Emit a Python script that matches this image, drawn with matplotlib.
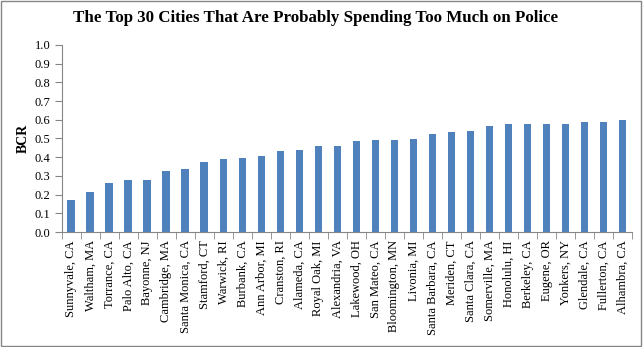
import numpy as np
import matplotlib
matplotlib.use("Agg")
import matplotlib.pyplot as plt
from matplotlib.patches import Rectangle
from matplotlib.ticker import FixedLocator, FormatStrFormatter

# BCR by city, sorted ascending
cities = ["Sunnyvale, CA", "Waltham, MA", "Torrance, CA", "Palo Alto, CA", "Bayonne, NJ",
          "Cambridge, MA", "Santa Monica, CA", "Stamford, CT", "Warwick, RI", "Burbank, CA",
          "Ann Arbor, MI", "Cranston, RI", "Alameda, CA", "Royal Oak, MI", "Alexandria, VA",
          "Lakewood, OH", "San Mateo, CA", "Bloomington, MN", "Livonia, MI", "Santa Barbara, CA",
          "Meriden, CT", "Santa Clara, CA", "Somerville, MA", "Honolulu, HI", "Berkeley, CA",
          "Eugene, OR", "Yonkers, NY", "Glendale, CA", "Fullerton, CA", "Alhambra, CA"]
bcr = [0.169, 0.212, 0.26, 0.28, 0.28,
       0.324, 0.339, 0.376, 0.392, 0.397,
       0.408, 0.435, 0.44, 0.461, 0.461,
       0.487, 0.492, 0.492, 0.497, 0.524,
       0.535, 0.54, 0.567, 0.578, 0.578,
       0.578, 0.578, 0.588, 0.588, 0.599]
yticks = [0.0, 0.1, 0.2, 0.3, 0.4, 0.5, 0.6, 0.7, 0.8, 0.9, 1.0]

plt.rcParams['font.family'] = ['Liberation Serif', 'DejaVu Serif']

fig = plt.figure(figsize=(6.43, 3.47), dpi=100)
ax = fig.add_axes([0.0964, 0.3314, 0.8865, 0.539])

x = np.arange(len(cities))
ax.bar(x, bcr, width=0.42, color="#4F81BD", zorder=2)

ax.set_xlim(-0.5, len(cities) - 0.5)
ax.set_ylim(0, 1.0)
ax.set_yticks(yticks)
ax.yaxis.set_major_formatter(FormatStrFormatter("%.1f"))
ax.set_xticks(x)
ax.set_xticklabels(cities, rotation=90, fontsize=9)
ax.xaxis.set_minor_locator(FixedLocator(np.arange(-0.5, len(cities), 1.0)))
ax.tick_params(axis="x", which="major", length=0, pad=6)
ax.tick_params(axis="x", which="minor", length=5, color="#868686", direction="out")
ax.tick_params(axis="y", length=5, color="#868686", direction="out", labelsize=9)

for side in ["top", "right"]:
    ax.spines[side].set_visible(False)
for side in ["left", "bottom"]:
    ax.spines[side].set_color("#868686")

ax.set_ylabel("BCR", fontsize=10, fontweight="bold", labelpad=3)
fig.text(0.49, 0.948, "The Top 30 Cities That Are Probably Spending Too Much on Police",
         ha="center", va="center", fontsize=12.2, fontweight="bold")

# chart border
fig.patches.append(Rectangle((0.002, 0.003), 0.995, 0.993, transform=fig.transFigure,
                             fill=False, edgecolor="#868686", linewidth=1))

fig.savefig("out.png", dpi=100)
